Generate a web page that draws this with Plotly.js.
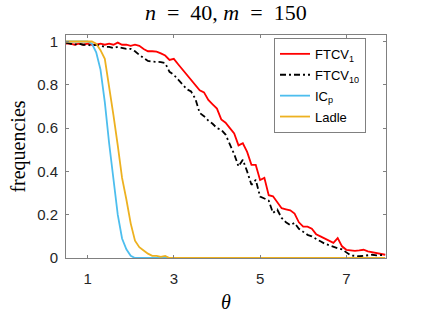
<!DOCTYPE html>
<html>
<head>
<meta charset="utf-8">
<script src="https://cdn.plot.ly/plotly-3.0.1.min.js"></script>
<style>html,body{margin:0;padding:0;background:#fff;}#chart{width:426px;height:320px;}</style>
</head>
<body>
<div id="chart"></div>
<script>
// theta grid 0.5:0.1:7.9
const theta = [0.5,0.6,0.7,0.8,0.9,1.0,1.1,1.2,1.3,1.4,1.5,1.6,1.7,1.8,1.9,2.0,2.1,2.2,2.3,2.4,2.5,2.6,2.7,2.8,2.9,3.0,3.1,3.2,3.3,3.4,3.5,3.6,3.7,3.8,3.9,4.0,4.1,4.2,4.3,4.4,4.5,4.6,4.7,4.8,4.9,5.0,5.1,5.2,5.3,5.4,5.5,5.6,5.7,5.8,5.9,6.0,6.1,6.2,6.3,6.4,6.5,6.6,6.7,6.8,6.9,7.0,7.1,7.2,7.3,7.4,7.5,7.6,7.7,7.8,7.9];

const ftcv1 = [0.99,0.99,0.985,0.99,0.985,0.99,0.985,0.985,0.99,0.985,0.99,0.985,0.995,0.985,0.985,0.98,0.985,0.98,0.965,0.955,0.955,0.953,0.945,0.935,0.915,0.92,0.895,0.87,0.845,0.825,0.80,0.775,0.765,0.73,0.71,0.69,0.64,0.625,0.60,0.575,0.52,0.53,0.49,0.43,0.43,0.36,0.37,0.29,0.285,0.26,0.23,0.225,0.22,0.205,0.165,0.145,0.145,0.135,0.11,0.10,0.09,0.08,0.07,0.092,0.054,0.038,0.035,0.033,0.035,0.038,0.031,0.027,0.023,0.018,0.015];

const ftcv10 = [0.995,0.99,0.985,0.99,0.985,0.985,0.98,0.985,0.98,0.975,0.975,0.97,0.975,0.97,0.966,0.966,0.955,0.938,0.925,0.91,0.907,0.907,0.905,0.90,0.86,0.846,0.825,0.805,0.78,0.769,0.735,0.67,0.655,0.635,0.62,0.60,0.592,0.57,0.525,0.48,0.423,0.454,0.40,0.338,0.361,0.284,0.275,0.265,0.208,0.223,0.185,0.165,0.152,0.162,0.135,0.12,0.107,0.10,0.087,0.077,0.066,0.058,0.05,0.045,0.04,0.025,0.012,0.01,0.008,0.01,0.012,0.015,0.012,0.013,0.015];

const icp = [1,1,1,1,1,1,0.99,0.95,0.87,0.72,0.53,0.36,0.2,0.09,0.04,0.01,0,0,0,0,0,0,0,0,0,0,0,0,0,0,0,0,0,0,0,0,0,0,0,0,0,0,0,0,0,0,0,0,0,0,0,0,0,0,0,0,0,0,0,0,0,0,0,0,0,0,0,0,0,0,0,0,0,0,0];

const ladle = [1,1,1,1,1,1,1,0.99,0.96,0.92,0.80,0.66,0.52,0.37,0.27,0.16,0.08,0.05,0.035,0.02,0.01,0.01,0.005,0.01,0,0,0.003,0,0,0,0,0,0,0,0,0,0,0,0,0,0,0,0,0,0,0,0,0,0,0,0,0,0,0,0,0,0,0,0,0,0,0,0,0,0,0,0,0,0,0,0,0,0,0,0];

const seriesNames = ['FTCV<sub>1</sub>','FTCV<sub>10</sub>','IC<sub>p</sub>','Ladle'];
const xTicks = [1,3,5,7];
const yTicks = [0,0.2,0.4,0.6,0.8,1];

const traces = [
  {x: theta, y: ftcv1, name: seriesNames[0], legendgroup:'a', mode:'lines', line:{color:'#FF0000', width:1.8}},
  {x: theta, y: ftcv10, name: seriesNames[1], legendgroup:'b', mode:'lines', line:{color:'#000000', width:1.8, dash:'6px,3px,2px,3px'}},
  {x: theta, y: icp, name: seriesNames[2], legendgroup:'c', mode:'lines', line:{color:'#4DBEEE', width:1.8}},
  {x: theta, y: ladle, name: seriesNames[3], legendgroup:'d', mode:'lines', line:{color:'#EDB120', width:1.8}}
];

const axisCommon = {
  showline:true, linecolor:'#808080', linewidth:1, mirror:'ticks',
  ticks:'inside', ticklen:3, tickcolor:'#808080', tickwidth:1,
  showgrid:false, zeroline:false,
  tickfont:{family:'Liberation Sans, Arial, sans-serif', size:15, color:'#262626'}
};

const layout = {
  width:426, height:320,
  margin:{l:66, r:40, t:35, b:62},
  paper_bgcolor:'#fff', plot_bgcolor:'#fff',
  showlegend:true,
  title:{text:'<i>n</i>&nbsp; = &nbsp;40, <i>m</i>&nbsp; = &nbsp;150', font:{family:'Liberation Serif, Times New Roman, serif', size:22, color:'#000'}, x:0.53, xanchor:'center', y:0.962, yanchor:'middle'},
  xaxis: Object.assign({}, axisCommon, {range:[0.5,7.92], tickvals:xTicks, ticktext:xTicks.map(String), ticklabelstandoff:7,
    title:{text:'<i>θ</i>', font:{family:'Liberation Serif, Times New Roman, serif', size:20, color:'#000'}, standoff:8}}),
  yaxis: Object.assign({}, axisCommon, {range:[0,1.03], tickvals:yTicks, ticktext:yTicks.map(String), ticklabelstandoff:4,
    title:{text:'frequencies', font:{family:'Liberation Serif, Times New Roman, serif', size:20, color:'#000'}, standoff:6}}),
  legend:{x:0.9375, xanchor:'right', y:0.987, yanchor:'top', bgcolor:'#fff', bordercolor:'#808080', borderwidth:1,
    font:{family:'Liberation Sans, Arial, sans-serif', size:13, color:'#000'}, tracegroupgap:1, itemwidth:30}
};

Plotly.newPlot('chart', traces, layout, {displayModeBar:false, staticPlot:true});
</script>
</body>
</html>
